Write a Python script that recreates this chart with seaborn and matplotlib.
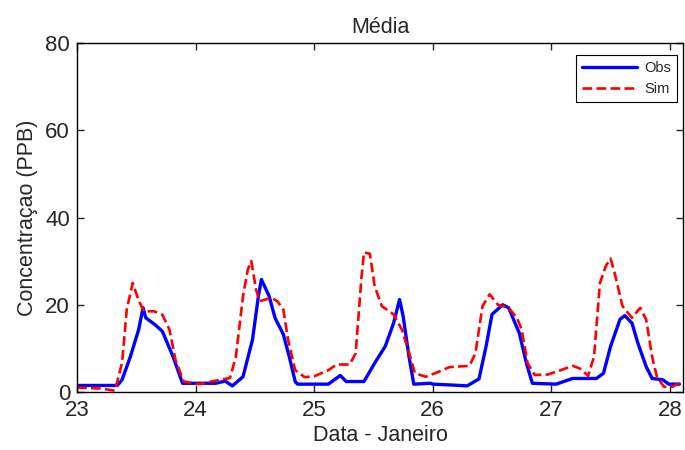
import matplotlib
matplotlib.use("Agg")
import matplotlib.pyplot as plt
import seaborn as sns

# observed concentration (day of January, PPB)
obs_day = [23.00, 23.34, 23.38, 23.45, 23.52, 23.557, 23.58, 23.66, 23.72, 23.81,
           23.89, 24.03, 24.17, 24.25, 24.31, 24.40, 24.48, 24.53, 24.555, 24.62,
           24.67, 24.74, 24.79, 24.84, 24.86, 25.12, 25.22, 25.27, 25.42, 25.51,
           25.60, 25.67, 25.72, 25.75, 25.80, 25.84, 25.98, 26.00, 26.16, 26.29,
           26.39, 26.45, 26.50, 26.59, 26.64, 26.73, 26.79, 26.84, 27.04, 27.18,
           27.38, 27.44, 27.50, 27.58, 27.62, 27.68, 27.73, 27.80, 27.85, 27.94,
           27.99, 28.08]
obs_val = [1.5, 1.5, 2.8, 8.1, 14.3, 19.3, 17.0, 15.4, 13.9, 8.1,
           2.0, 2.0, 2.0, 2.5, 1.4, 3.5, 12.0, 22.0, 25.8, 22.0,
           17.0, 13.2, 8.1, 2.4, 1.8, 1.8, 3.8, 2.4, 2.4, 6.6,
           10.5, 15.8, 21.2, 17.4, 8.1, 1.8, 2.0, 1.8, 1.6, 1.4,
           3.0, 10.5, 17.8, 20.0, 19.3, 13.5, 6.6, 2.0, 1.8, 3.1,
           3.1, 4.3, 10.5, 16.7, 17.5, 15.8, 11.2, 5.8, 3.1, 2.8,
           1.8, 1.8]

# simulated concentration
sim_day = [23.00, 23.20, 23.32, 23.38, 23.42, 23.47, 23.52, 23.565, 23.65, 23.72,
           23.78, 23.83, 23.90, 24.03, 24.17, 24.29, 24.34, 24.40, 24.44, 24.47,
           24.51, 24.54, 24.64, 24.69, 24.74, 24.78, 24.84, 24.92, 25.00, 25.12,
           25.19, 25.30, 25.35, 25.40, 25.42, 25.47, 25.51, 25.57, 25.67, 25.74,
           25.80, 25.85, 25.94, 26.02, 26.14, 26.31, 26.36, 26.42, 26.48, 26.55,
           26.64, 26.71, 26.75, 26.80, 26.86, 26.97, 27.08, 27.18, 27.24, 27.31,
           27.36, 27.41, 27.46, 27.50, 27.54, 27.60, 27.68, 27.75, 27.80, 27.85,
           27.89, 27.95, 28.02, 28.08]
sim_val = [1.0, 0.8, 0.3, 6.7, 19.0, 25.0, 21.0, 18.5, 18.5, 17.7,
           14.3, 7.4, 2.4, 1.8, 2.6, 3.2, 8.1, 22.0, 28.0, 30.0,
           23.5, 20.8, 21.6, 20.8, 18.9, 12.0, 5.0, 3.4, 3.6, 5.0,
           6.3, 6.3, 8.9, 26.6, 32.0, 31.7, 24.3, 19.7, 17.8, 14.3,
           9.0, 4.3, 3.5, 4.3, 5.7, 6.0, 8.9, 19.7, 22.4, 20.0,
           19.3, 17.0, 14.3, 6.6, 3.9, 4.0, 5.0, 6.0, 5.4, 3.7,
           8.1, 25.0, 28.9, 30.6, 26.6, 19.7, 17.0, 19.3, 16.6, 8.1,
           3.5, 1.2, 1.2, 2.0]

x_ticks = [23, 24, 25, 26, 27, 28]
y_ticks = [0, 20, 40, 60, 80]

sns.set_style("ticks")
plt.rcParams['font.family'] = ['Liberation Sans', 'DejaVu Sans']

fig = plt.figure(figsize=(6.85, 4.5), dpi=100)
ax = fig.add_axes([0.1124, 0.1289, 0.8846, 0.7755])

sns.lineplot(x=obs_day, y=obs_val, color='blue', linewidth=2.4, label='Obs', ax=ax)
sns.lineplot(x=sim_day, y=sim_val, color='red', linewidth=1.9, linestyle='--',
             dashes=(3, 1.5), label='Sim', ax=ax)

ax.set_xlim(23, 28.11)
ax.set_ylim(0, 80)
ax.set_xticks(x_ticks)
ax.set_yticks(y_ticks)
ax.tick_params(direction='in', top=True, right=True, labelsize=16, length=5, width=1)
ax.tick_params(axis='x', pad=6)
ax.tick_params(axis='y', pad=5)
for s in ax.spines.values():
    s.set_color('black')
    s.set_linewidth(1)

ax.set_title('Média', fontsize=15.5, pad=7)
ax.set_xlabel('Data - Janeiro', fontsize=15.5, labelpad=3)
ax.set_ylabel('Concentraçao (PPB)', fontsize=15.5, labelpad=5)

leg = ax.legend(loc='upper right', bbox_to_anchor=(0.9883, 0.8778),
                bbox_transform=fig.transFigure, borderaxespad=0,
                fontsize=10.5, handlelength=3.8, handletextpad=0.5,
                fancybox=False, edgecolor='black', framealpha=1)
leg.get_frame().set_linewidth(0.8)

plt.savefig('out.png', dpi=100)
plt.close()
